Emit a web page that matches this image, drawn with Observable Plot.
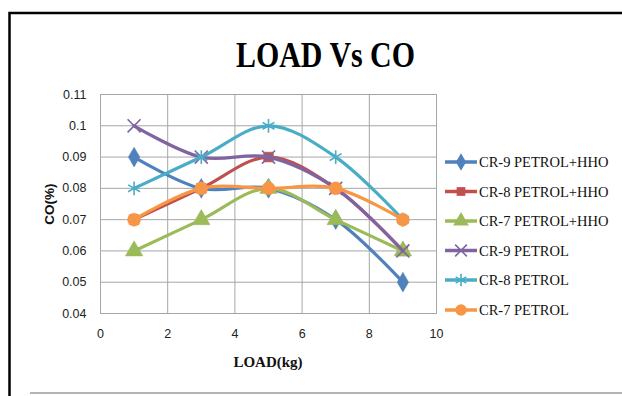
<!DOCTYPE html>
<html>
<head>
<meta charset="utf-8">
<script src="https://cdn.jsdelivr.net/npm/d3@7"></script>
<script src="https://cdn.jsdelivr.net/npm/@observablehq/plot@0.6"></script>
<style>
  html, body { margin: 0; padding: 0; background: #fff; }
  #wrap { position: relative; width: 622px; height: 396px; overflow: hidden; background: #fff; }
  #wrap > * { position: absolute; left: 0; top: 0; }
</style>
</head>
<body>
<div id="wrap"></div>
<script>
const loads = [1, 3, 5, 7, 9];
const seriesNames = ["CR-9 PETROL+HHO", "CR-8 PETROL+HHO", "CR-7 PETROL+HHO", "CR-9 PETROL", "CR-8 PETROL", "CR-7 PETROL"];
const cr9hho = [0.09, 0.08, 0.08, 0.07, 0.05];
const cr8hho = [0.07, 0.08, 0.09, 0.08, 0.06];
const cr7hho = [0.06, 0.07, 0.08, 0.07, 0.06];
const cr9p   = [0.10, 0.09, 0.09, 0.08, 0.06];
const cr8p   = [0.08, 0.09, 0.10, 0.09, 0.07];
const cr7p   = [0.07, 0.08, 0.08, 0.08, 0.07];
const xTicks = [0, 2, 4, 6, 8, 10];
const yTicks = [0.04, 0.05, 0.06, 0.07, 0.08, 0.09, 0.10, 0.11];

const colors  = ["#4F81BD", "#C0504D", "#9BBB59", "#8064A2", "#4BACC6", "#F79646"];
const symbols = ["diamond", "square", "triangle", "times", "asterisk", "circle"];
const filled  = [true, true, true, false, false, true];
const radii   = [6, 5.5, 6.5, 6, 6.5, 6.5];
const values  = [cr9hho, cr8hho, cr7hho, cr9p, cr8p, cr7p];

const series = seriesNames.map((name, i) => ({
  name, color: colors[i], symbol: symbols[i], filled: filled[i], r: radii[i],
  data: loads.map((x, j) => ({x, y: values[i][j]}))
}));

const marks = [
  Plot.gridX(xTicks, {stroke: "#a6a6a6", strokeOpacity: 1, strokeWidth: 1}),
  Plot.gridY(yTicks, {stroke: "#a6a6a6", strokeOpacity: 1, strokeWidth: 1}),
  Plot.frame({stroke: "#a6a6a6", strokeWidth: 1}),
  Plot.axisX(xTicks, {label: null, tickSize: 0, tickPadding: 16, fontSize: 12.5, fill: "#222", fontFamily: "Liberation Sans, Arial, sans-serif"}),
  Plot.axisY(yTicks, {label: null, tickSize: 0, tickPadding: 14, fontSize: 12.5, fill: "#222", fontFamily: "Liberation Sans, Arial, sans-serif", tickFormat: d => String(+d.toFixed(2))})
];
for (const s of series) {
  marks.push(Plot.line(s.data, {x: "x", y: "y", stroke: s.color, strokeWidth: 3.2, curve: "catmull-rom"}));
  if (s.filled) {
    marks.push(Plot.dot(s.data, {x: "x", y: "y", symbol: s.symbol, fill: s.color, r: s.r, stroke: s.color, strokeWidth: 0.5}));
  } else {
    marks.push(Plot.dot(s.data, {x: "x", y: "y", symbol: s.symbol, stroke: s.color, r: s.r, strokeWidth: 1.6}));
  }
}

const chart = Plot.plot({
  width: 622,
  height: 396,
  marginLeft: 100,
  marginTop: 94,
  marginRight: 186,
  marginBottom: 83,
  x: {domain: [0, 10], axis: null, label: null},
  y: {domain: [0.04, 0.11], axis: null, label: null},
  style: {background: "transparent", overflow: "visible"},
  marks
});

const wrap = document.getElementById("wrap");
wrap.appendChild(chart);

// Overlay: border, titles, legend
const ov = d3.create("svg").attr("width", 622).attr("height", 396).style("pointer-events", "none");
ov.append("path").attr("d", "M9.5,396 V13 H622").attr("fill", "none").attr("stroke", "#000").attr("stroke-width", 2.5);
ov.append("line").attr("x1", 30).attr("x2", 622).attr("y1", 393).attr("y2", 393).attr("stroke", "#9a9a9a").attr("stroke-width", 1.5);

ov.append("text").attr("x", 236).attr("y", 67).attr("textLength", 179).attr("lengthAdjust", "spacingAndGlyphs")
  .attr("font-family", "Liberation Serif, Times New Roman, serif").attr("font-weight", "bold").attr("font-size", 35)
  .attr("fill", "#000").text("LOAD Vs CO");

ov.append("text").attr("x", 268).attr("y", 367).attr("text-anchor", "middle")
  .attr("font-family", "Liberation Serif, Times New Roman, serif").attr("font-weight", "bold").attr("font-size", 15)
  .attr("fill", "#111").text("LOAD(kg)");

ov.append("text").attr("transform", "translate(54,204) rotate(-90)").attr("text-anchor", "middle")
  .attr("font-family", "Liberation Sans, Arial, sans-serif").attr("font-weight", "bold").attr("font-size", 13.5)
  .attr("fill", "#111").text("CO(%)");

const symMap = {diamond: d3.symbolDiamond, square: d3.symbolSquare, triangle: d3.symbolTriangle, times: d3.symbolTimes, asterisk: d3.symbolAsterisk, circle: d3.symbolCircle};
const legendY = [162, 191.5, 221, 250.5, 280, 310];
series.forEach((s, i) => {
  const g = ov.append("g").attr("transform", `translate(0,${legendY[i]})`);
  g.append("line").attr("x1", 445).attr("x2", 477).attr("y1", 0).attr("y2", 0).attr("stroke", s.color).attr("stroke-width", 3.5);
  const sz = s.r * s.r * Math.PI * 0.8;
  const p = g.append("path").attr("transform", "translate(461,0)").attr("d", d3.symbol(symMap[s.symbol], sz)());
  if (s.filled) p.attr("fill", s.color); else p.attr("fill", "none").attr("stroke", s.color).attr("stroke-width", 1.6);
  g.append("text").attr("x", 479).attr("y", 5).attr("font-family", "Liberation Serif, Times New Roman, serif")
    .attr("font-size", 14.5).attr("fill", "#111").text(s.name);
});
wrap.appendChild(ov.node());
</script>
</body>
</html>
